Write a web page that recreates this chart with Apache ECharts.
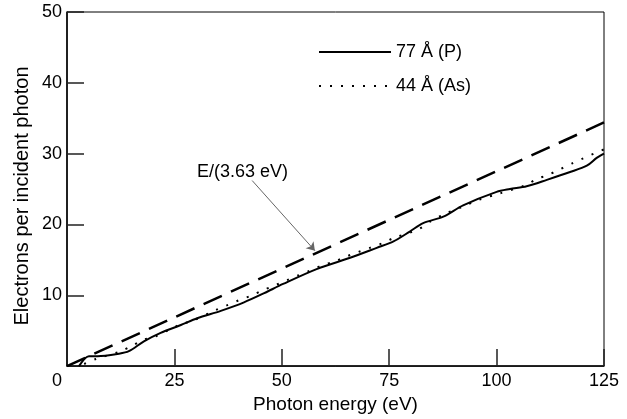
<!DOCTYPE html>
<html>
<head>
<meta charset="utf-8">
<script src="https://cdn.jsdelivr.net/npm/echarts@6/dist/echarts.min.js"></script>
<style>
  html, body { margin: 0; padding: 0; background: #fff; }
  #chart { width: 627px; height: 419px; }
</style>
</head>
<body>
<div id="chart"></div>
<script>
  // 77 Å (P) curve
  const solidE = [2.8, 5.1, 7.1, 12.1, 14.4, 17.9, 21.8, 26.5, 30.3, 35.8, 41.2, 45.9, 50.3, 58.1, 65.9, 72.1, 76, 79.8, 82.9, 87.6, 92.2, 100, 103.1, 107, 111.7, 117.1, 121, 123.3, 125];
  const solidN = [0, 1.4, 1.4, 1.75, 2.1, 3.5, 4.7, 5.8, 6.75, 7.8, 9.0, 10.3, 11.6, 13.7, 15.3, 16.7, 17.6, 19, 20.2, 21.1, 22.7, 24.6, 25.0, 25.4, 26.3, 27.4, 28.3, 29.4, 30];
  // 44 Å (As) curve
  const dotE = [4, 6.7, 12.5, 15.2, 17.9, 20.6, 24, 26.5, 29.2, 34.6, 37.3, 40, 43.1, 45.5, 48.4, 51.1, 53.8, 56.6, 59.3, 62.4, 65.1, 67.8, 70.5, 73.6, 76.1, 81.8, 84.5, 88, 92, 96, 100.8, 106.6, 109.3, 112, 114.8, 117.5, 120.2, 123, 125];
  const dotN = [0.3, 1.0, 2.1, 2.9, 3.75, 4.2, 5.2, 5.9, 6.4, 7.9, 8.6, 9.3, 10.0, 10.7, 11.4, 12.1, 12.8, 13.5, 14.2, 14.8, 15.5, 16.1, 16.7, 17.4, 18.1, 19.3, 20.4, 21.5, 22.5, 23.5, 24.4, 25.5, 26.4, 27.0, 27.8, 28.6, 29.35, 30.1, 30.6];
  // E/(3.63 eV) reference line end points
  const refE = [0, 125];
  const refN = [0, 34.4];
  // annotation arrow (data coords)
  const arrowFrom = [43.1, 26.2];
  const arrowTo = [57.7, 16.3];

  const seriesNames = ['77 Å (P)', '44 Å (As)'];
  const font = '"Liberation Sans", Arial, sans-serif';

  let chart = echarts.init(document.getElementById('chart'));
  let option = {
    backgroundColor: '#fff',
    animation: false,
    grid: {
      left: 67, right: 23, top: 12, bottom: 47,
      show: true, borderColor: '#000', borderWidth: 1
    },
    legend: {
      data: seriesNames,
      orient: 'vertical',
      left: 313, top: 38,
      itemWidth: 72, itemHeight: 14, itemGap: 16,
      itemStyle: { opacity: 0 },
      textStyle: { fontFamily: font, fontSize: 18, color: '#000' }
    },
    graphic: [{
      type: 'text', left: 197, top: 163,
      style: { text: 'E/(3.63 eV)', fontFamily: font, fontSize: 18, fill: '#000' }
    }, {
      // y axis title
      type: 'text', x: 22, y: 196, rotation: Math.PI / 2,
      style: {
        text: 'Electrons per incident photon', fontFamily: font, fontSize: 20, fill: '#000',
        align: 'center', verticalAlign: 'middle'
      }
    }],
    xAxis: {
      type: 'value', min: 0, max: 125, interval: 25,
      name: 'Photon energy (eV)', nameLocation: 'middle', nameGap: 28,
      nameTextStyle: { fontFamily: font, fontSize: 19, color: '#000' },
      axisLine: { lineStyle: { color: '#000', width: 1.5 } },
      axisTick: { show: true, inside: true, length: 17, lineStyle: { color: '#222', width: 1.5 } },
      axisLabel: {
        margin: 6, fontFamily: font, fontSize: 18, color: '#000',
        formatter: v => v === 0 ? '{z|0}' : String(v),
        rich: { z: { fontFamily: font, fontSize: 18, color: '#000', padding: [0, 20, 0, 0] } }
      },
      splitLine: { show: false }
    },
    yAxis: {
      type: 'value', min: 0, max: 50, interval: 10,
      axisLine: { show: true, lineStyle: { color: '#000', width: 1.5 } },
      axisTick: { show: true, inside: true, length: 17, lineStyle: { color: '#222', width: 1.5 } },
      axisLabel: { margin: 5, fontFamily: font, fontSize: 18, color: '#000', showMinLabel: false },
      splitLine: { show: false }
    },
    series: [{
      name: seriesNames[0],
      type: 'line',
      data: solidE.map((e, i) => [e, solidN[i]]),
      symbol: 'none', smooth: 0.3,
      lineStyle: { color: '#000', width: 2 },
      itemStyle: { color: '#000' }
    }, {
      name: seriesNames[1],
      type: 'line',
      data: dotE.map((e, i) => [e, dotN[i]]),
      symbol: 'none', smooth: 0.3,
      lineStyle: { color: '#000', width: 2, type: [2, 9] },
      itemStyle: { color: '#000' }
    }, {
      name: 'E/(3.63 eV)',
      type: 'line',
      data: refE.map((e, i) => [e, refN[i]]),
      symbol: 'none',
      lineStyle: { color: '#000', width: 2.5, type: [20, 10] },
      markLine: {
        silent: true,
        symbol: ['none', 'arrow'], symbolSize: 8,
        label: { show: false },
        lineStyle: { color: '#666', width: 1, type: 'solid' },
        data: [[{ coord: arrowFrom }, { coord: arrowTo }]]
      }
    }]
  };
  chart.setOption(option);
</script>
</body>
</html>
